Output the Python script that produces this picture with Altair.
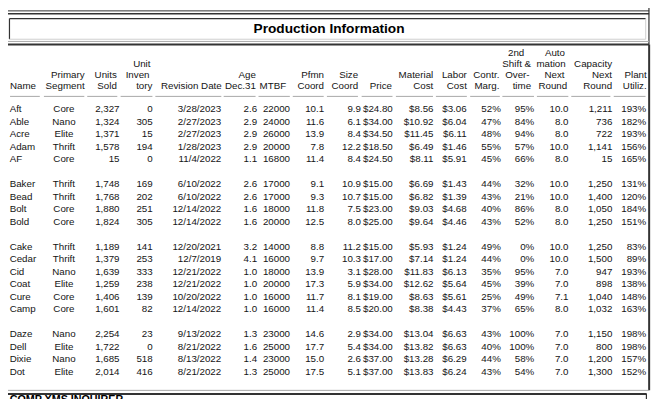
import altair as alt
import pandas as pd

# ---------------- data ----------------
group_sizes = [5, 4, 6, 4]
names = ["Aft", "Able", "Acre", "Adam", "AF",
         "Baker", "Bead", "Bolt", "Bold",
         "Cake", "Cedar", "Cid", "Coat", "Cure", "Camp",
         "Daze", "Dell", "Dixie", "Dot"]
segments = ["Core", "Nano", "Elite", "Thrift", "Core",
            "Thrift", "Thrift", "Core", "Core",
            "Thrift", "Thrift", "Nano", "Elite", "Core", "Core",
            "Nano", "Elite", "Nano", "Elite"]
units_sold = [2327, 1324, 1371, 1578, 15,
              1748, 1768, 1880, 1824,
              1189, 1379, 1639, 1259, 1406, 1601,
              2254, 1722, 1685, 2014]
inventory = [0, 305, 15, 194, 0,
             169, 202, 251, 305,
             141, 253, 333, 238, 139, 82,
             23, 0, 518, 416]
revision_date = ["3/28/2023", "2/27/2023", "2/27/2023", "1/28/2023", "11/4/2022",
                 "6/10/2022", "6/10/2022", "12/14/2022", "12/14/2022",
                 "12/20/2021", "12/7/2019", "12/21/2022", "12/21/2022", "10/20/2022", "12/14/2022",
                 "9/13/2022", "8/21/2022", "8/13/2022", "8/21/2022"]
age = [2.6, 2.9, 2.9, 2.9, 1.1,
       2.6, 2.6, 1.6, 1.6,
       3.2, 4.1, 1.0, 1.0, 1.0, 1.0,
       1.3, 1.6, 1.4, 1.3]
mtbf = [22000, 24000, 26000, 20000, 16800,
        17000, 17000, 18000, 20000,
        14000, 16000, 18000, 20000, 16000, 16000,
        23000, 25000, 23000, 25000]
pfmn = [10.1, 11.6, 13.9, 7.8, 11.4,
        9.1, 9.3, 11.8, 12.5,
        8.8, 9.7, 13.9, 17.3, 11.7, 11.4,
        14.6, 17.7, 15.0, 17.5]
size = [9.9, 6.1, 8.4, 12.2, 8.4,
        10.9, 10.7, 7.5, 8.0,
        11.2, 10.3, 3.1, 5.9, 8.1, 8.5,
        2.9, 5.4, 2.6, 5.1]
price = [24.80, 34.00, 34.50, 18.50, 24.50,
         15.00, 15.00, 23.00, 25.00,
         15.00, 17.00, 28.00, 34.00, 19.00, 20.00,
         34.00, 34.00, 37.00, 37.00]
material_cost = [8.56, 10.92, 11.45, 6.49, 8.11,
                 6.69, 6.82, 9.03, 9.64,
                 5.93, 7.14, 11.83, 12.62, 8.63, 8.38,
                 13.04, 13.82, 13.28, 13.83]
labor_cost = [3.06, 6.04, 6.11, 1.46, 5.91,
              1.43, 1.39, 4.68, 4.46,
              1.24, 1.24, 6.13, 5.64, 5.61, 4.43,
              6.63, 6.63, 6.29, 6.24]
contr_marg = [52, 47, 48, 55, 45,
              44, 43, 40, 43,
              49, 44, 35, 45, 25, 37,
              43, 40, 44, 43]
overtime = [95, 84, 94, 57, 66,
            32, 21, 86, 52,
            0, 0, 95, 39, 49, 65,
            100, 100, 58, 54]
automation = [10.0, 8.0, 8.0, 10.0, 8.0,
              10.0, 10.0, 8.0, 8.0,
              10.0, 10.0, 7.0, 7.0, 7.1, 8.0,
              7.0, 7.0, 7.0, 7.0]
capacity = [1211, 736, 722, 1141, 15,
            1250, 1400, 1050, 1250,
            1250, 1500, 947, 898, 1040, 1032,
            1150, 800, 1200, 1300]
plant_util = [193, 182, 193, 156, 165,
              131, 120, 184, 151,
              83, 89, 193, 138, 148, 163,
              198, 198, 157, 152]

title_text = "Production Information"
footer_text = "COMP XMS INQUIRER"

# header lines per column (top line first)
headers = [
    ["Name"], ["Primary", "Segment"], ["Units", "Sold"], ["Unit", "Inven", "tory"],
    ["Revision Date"], ["Age", "Dec.31"], ["MTBF"], ["Pfmn", "Coord"], ["Size", "Coord"],
    ["Price"], ["Material", "Cost"], ["Labor", "Cost"], ["Contr.", "Marg."],
    ["2nd", "Shift &", "Over-", "time"], ["Auto", "mation", "Next", "Round"],
    ["Capacity", "Next", "Round"], ["Plant", "Utiliz."],
]

# ---------------- layout (reference pixel space 663 x 407) ----------------
W, H = 647, 391
REF_W, REF_H = 663, 407
FS = 10 * W / REF_W
DARK = "#333333"
GRAY = "#a8a8a8"
LIGHT = "#cfcfcf"
TXT = "#141414"

# column anchors: (align, x) for data cells
col_anchor = [("left", 1.7), ("center", 57.3), ("right", 114.3), ("right", 148.3),
              ("right", 218.5), ("right", 255.3), ("right", 289.0), ("right", 324.0),
              ("right", 361.7), ("right", 394.3), ("right", 436.0), ("right", 470.0),
              ("right", 505.0), ("right", 539.3), ("right", 574.3), ("right", 619.3),
              ("right", 654.0)]
# underline spans
col_lines = [(2.1, 32.6), (36.8, 78.2), (81.2, 112.0), (115.4, 148.0), (151.0, 218.6),
             (221.0, 253.7), (256.7, 288.8), (291.8, 323.5), (326.8, 358.6), (362.4, 394.0),
             (397.5, 435.5), (438.5, 470.2), (473.6, 504.0), (506.6, 539.0), (542.0, 574.2),
             (577.2, 617.3), (620.7, 653.3)]
# header anchors per line (align, x)
head_anchor = [
    [("left", 2.0)], [("right", 78.5)] * 2, [("right", 111.5)] * 2,
    [("right", 146.0), ("right", 145.0), ("right", 148.0)],
    [("right", 219.0)], [("right", 254.0)] * 2, [("right", 285.0)], [("right", 323.8)] * 2,
    [("right", 358.8)] * 2, [("right", 393.5)], [("right", 435.8)] * 2, [("right", 470.2)] * 2,
    [("right", 503.5)] * 2,
    [("right", 529.0), ("right", 536.0), ("right", 534.5), ("right", 536.0)],
    [("center", 560.5), ("center", 556.5), ("center", 560.0), ("center", 558.3)],
    [("right", 619.0)] * 3, [("right", 654.5)] * 2,
]
HEAD_Y = [46.7, 58.0, 69.3, 80.7]
ROW0, PITCH = 105.6, 13.0

# ---------------- build tables ----------------
def fmt_row(i):
    return [names[i], segments[i], f"{units_sold[i]:,}", f"{inventory[i]}", revision_date[i],
            f"{age[i]:.1f}", f"{mtbf[i]}", f"{pfmn[i]:.1f}", f"{size[i]:.1f}",
            f"${price[i]:.2f}", f"${material_cost[i]:.2f}", f"${labor_cost[i]:.2f}",
            f"{contr_marg[i]}%", f"{overtime[i]}%", f"{automation[i]:.1f}",
            f"{capacity[i]:,}", f"{plant_util[i]}%"]

slots = []
for g, n in enumerate(group_sizes):
    start = sum(group_sizes[:g]) + g
    slots += list(range(start, start + n))

cells = []
for i in range(len(names)):
    y = ROW0 + slots[i] * PITCH
    for c, txt in enumerate(fmt_row(i)):
        a, x = col_anchor[c]
        cells.append({"x": x, "y": y, "text": txt, "align": a})
for c, lines in enumerate(headers):
    n = len(lines)
    for k, txt in enumerate(lines):
        a, x = head_anchor[c][k]
        cells.append({"x": x, "y": HEAD_Y[4 - n + k], "text": txt, "align": a})
cells = pd.DataFrame(cells)

rules = [
    (0, 657, 3.0, 3.0, DARK, 1.0), (0, 657, 6.0, 6.0, DARK, 1.5),
    (656.8, 656.8, 0, 38, DARK, 1.2),
    (1.5, 653.5, 11.0, 11.0, DARK, 1.2), (1.5, 1.5, 11.0, 32.5, DARK, 1.2),
    (1.5, 653.5, 32.5, 32.5, LIGHT, 1.0), (653.5, 653.5, 11.0, 32.5, LIGHT, 1.0),
    (0, 657, 34.8, 34.8, GRAY, 1.0), (0, 657, 38.0, 38.0, DARK, 2.0),
    (657, 657, 38.0, 398.0, DARK, 2.0),
    (0, 657, 398.0, 398.0, GRAY, 1.0), (0, 654.5, 401.8, 401.8, DARK, 2.0),
    (654.2, 654.2, 401.8, 407, DARK, 1.2),
]
for x1, x2 in col_lines:
    rules.append((x1, x2, 92.0, 92.0, GRAY, 1.0))
rules = pd.DataFrame(rules, columns=["x", "x2", "y", "y2", "color", "w"])

labels = pd.DataFrame([{"x": 329.0, "y": 22.0, "text": title_text}])
footer = pd.DataFrame([{"x": 1.7, "y": 403.3, "text": footer_text}])

# ---------------- chart ----------------
xs = alt.Scale(domain=[0, REF_W], nice=False, zero=False)
ys = alt.Scale(domain=[0, REF_H], nice=False, zero=False, reverse=True)
X = alt.X("x:Q", scale=xs, axis=None)
Y = alt.Y("y:Q", scale=ys, axis=None)

rule_layer = alt.Chart(rules).mark_rule().encode(
    x=X, x2="x2:Q", y=Y, y2="y2:Q",
    color=alt.Color("color:N", scale=None),
    strokeWidth=alt.StrokeWidth("w:Q", scale=None),
)

text_layers = []
for a in ["left", "center", "right"]:
    text_layers.append(
        alt.Chart(cells[cells["align"] == a]).mark_text(
            align=a, baseline="middle", font="Liberation Sans", fontSize=FS, color=TXT
        ).encode(x=X, y=Y, text="text:N")
    )

title_layer = alt.Chart(labels).mark_text(
    align="center", baseline="middle", font="Liberation Sans", fontWeight="bold",
    fontSize=14.0 * W / REF_W, color="#000000"
).encode(x=X, y=Y, text="text:N")

footer_layer = alt.Chart(footer).mark_text(
    align="left", baseline="top", font="Liberation Sans", fontWeight="bold",
    fontSize=11.0 * W / REF_W, color="#000000"
).encode(x=X, y=Y, text="text:N")

chart = alt.layer(rule_layer, *text_layers, title_layer, footer_layer).properties(
    width=W, height=H, padding=0, autosize=alt.AutoSizeParams(type="none"),
    background="white",
).configure_view(stroke=None)

chart.save("out.html", embed_options={"renderer": "svg", "actions": False})
